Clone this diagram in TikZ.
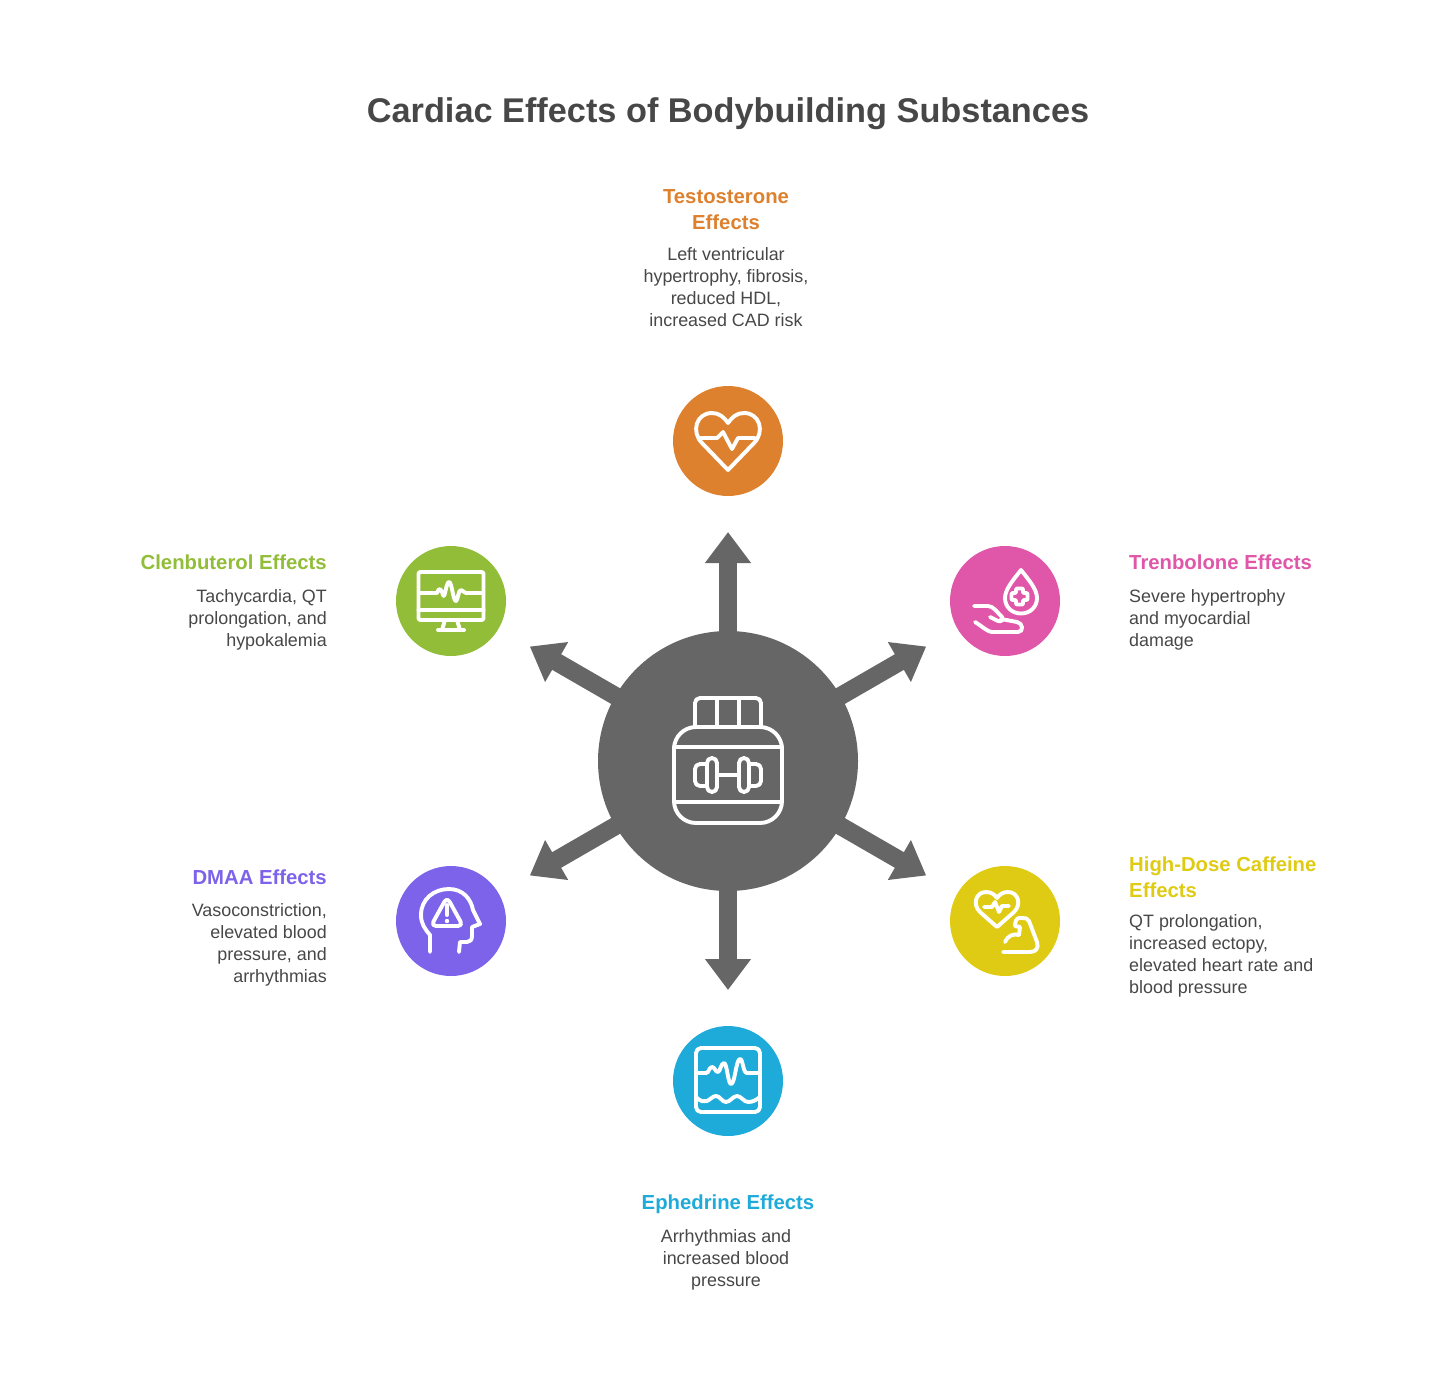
\documentclass[tikz,border=0pt]{standalone}
\usepackage{fontspec}
\setmainfont{Liberation Sans}
\usetikzlibrary{arrows.meta}
\definecolor{inkgray}{HTML}{474747}
\definecolor{hubgray}{HTML}{666666}
\definecolor{testoorange}{HTML}{DD812E}
\definecolor{clengreen}{HTML}{92BD39}
\definecolor{trenpink}{HTML}{E056A9}
\definecolor{dmaapurple}{HTML}{7D63EA}
\definecolor{caffyellow}{HTML}{DFCB13}
\definecolor{ephedblue}{HTML}{1EABDA}
\begin{document}
\begin{tikzpicture}[
  x=1pt, y=-1pt,
  hub/.style={circle, fill=hubgray, minimum size=260pt, inner sep=0pt, outer sep=0pt},
  badge/.style={circle, minimum size=110pt, inner sep=0pt, outer sep=0pt},
  spoke/.style={-{Triangle[length=31pt, width=44pt]}, line width=18pt, draw=hubgray, shorten >=36pt, shorten <=-2pt},
  glyph/.style={draw=white, line width=3.9pt, line cap=round, line join=round},
  titletext/.style={font=\fontsize{34.3}{40}\selectfont\bfseries, text=inkgray, inner sep=0pt},
  heading/.style={font=\fontsize{20.3}{26}\selectfont\bfseries, inner sep=0pt},
  blurb/.style={font=\fontsize{17.9}{22}\selectfont, text=inkgray, inner sep=0pt}
]
  \useasboundingbox (0,0) rectangle (1456,1379);

  % Title
  \node[titletext] (title) at (728,114) {Cardiac Effects of Bodybuilding Substances};

  % Hub and badges
  \node[hub] (hub) at (728,761) {};
  \node[badge, fill=testoorange] (testo) at (728,441) {};
  \node[badge, fill=clengreen] (clen) at (451,601) {};
  \node[badge, fill=trenpink] (tren) at (1005,601) {};
  \node[badge, fill=dmaapurple] (dmaa) at (451,921) {};
  \node[badge, fill=caffyellow] (caff) at (1005,921) {};
  \node[badge, fill=ephedblue] (ephed) at (728,1081) {};

  % Arrows
  \draw[spoke] (hub) -- (testo);
  \draw[spoke] (hub) -- (clen);
  \draw[spoke] (hub) -- (tren);
  \draw[spoke] (hub) -- (dmaa);
  \draw[spoke] (hub) -- (caff);
  \draw[spoke] (hub) -- (ephed);

  % Jar icon
  \begin{scope}[shift={(hub)}]
    \draw[glyph, rounded corners=22pt] (-54,-34) rectangle (54,62);
    \draw[glyph, rounded corners=5pt] (-33,-34) -- (-33,-63) -- (33,-63) -- (33,-34);
    \draw[glyph] (-11,-63) -- (-11,-34);
    \draw[glyph] (11,-63) -- (11,-34);
    \draw[glyph] (-54,-14) -- (54,-14);
    \draw[glyph] (-54,41) -- (54,41);
    \draw[glyph] (-11,14) -- (11,14);
    \draw[glyph, rounded corners=5pt] (-21,-3) rectangle (-11,31);
    \draw[glyph, rounded corners=5pt] (11,-3) rectangle (21,31);
    \draw[glyph, rounded corners=5pt] (-21,3) -- (-33,3) -- (-33,25) -- (-21,25);
    \draw[glyph, rounded corners=5pt] (21,3) -- (33,3) -- (33,25) -- (21,25);
  \end{scope}

  % Heart icon
  \begin{scope}[shift={(testo)}]
    \draw[glyph] (0,29) -- (-26,2) .. controls (-37,-9) and (-32,-28) .. (-16,-28)
      .. controls (-9,-28) and (-4,-24) .. (0,-18)
      .. controls (4,-24) and (9,-28) .. (16,-28)
      .. controls (32,-28) and (37,-9) .. (26,2) -- cycle;
    \draw[glyph] (-29,-3) -- (-11,-3) -- (-5,-9) -- (4,8) -- (10,-3) -- (27,-3);
  \end{scope}

  % Monitor icon
  \begin{scope}[shift={(clen)}]
    \draw[glyph, rounded corners=2pt] (-32.5,-29) rectangle (32.5,19);
    \draw[glyph] (-32.5,9) -- (32.5,9);
    \draw[glyph] (-6,19) -- (-9,29);
    \draw[glyph] (6,19) -- (9,29);
    \draw[glyph] (-13,29) -- (13,29);
    \draw[glyph] (-32,-8) -- (-14,-8) .. controls (-12,-14) and (-10,-13) .. (-8,-6)
      .. controls (-6,-1) and (-5,-19) .. (-2,-19)
      .. controls (1,-19) and (2,0) .. (5,0)
      .. controls (7,0) and (7,-11) .. (10,-11)
      .. controls (12,-11) and (13,-8) .. (15,-8) -- (32,-8);
  \end{scope}

  % Drop in hand icon
  \begin{scope}[shift={(tren)}]
    \draw[glyph] (16,-31) .. controls (9,-22) and (0,-12) .. (0,-3)
      .. controls (0,6) and (7,12.5) .. (16,12.5)
      .. controls (25,12.5) and (32,6) .. (32,-3)
      .. controls (32,-12) and (23,-22) .. (16,-31) -- cycle;
    \draw[glyph, rounded corners=1pt] (11,-12.5) -- (18,-12.5) -- (18,-8) -- (22.5,-8) -- (22.5,-1) -- (18,-1) -- (18,3.5)
      -- (11,3.5) -- (11,-1) -- (6.5,-1) -- (6.5,-8) -- (11,-8) -- cycle;
    \draw[glyph] (-31,5) -- (-17,5) .. controls (-12,5) and (-8,11) .. (-3,16)
      .. controls (-1,19) and (-4,21) .. (-7,20) -- (-15,16);
    \draw[glyph] (-4,18) -- (12,21) .. controls (18,22) and (19,31) .. (13,31)
      -- (-13,31) .. controls (-17,31) and (-22,26) .. (-30,21);
  \end{scope}

  % Head icon
  \begin{scope}[shift={(dmaa)}]
    \draw[glyph] (-21,31) -- (-21,14) .. controls (-26,8) and (-30,3) .. (-30,-6)
      .. controls (-30,-22) and (-17,-32) .. (-2,-32)
      .. controls (12,-32) and (20,-22) .. (22,-11)
      -- (29,3) -- (21,6) -- (21,15) .. controls (21,19) and (19,21) .. (16,21)
      -- (9,21) -- (8,31);
    \draw[glyph, rounded corners=5pt] (-4,-24) -- (-20,5) -- (12,5) -- cycle;
    \draw[glyph] (-4,-16) -- (-4,-6);
    \fill[white] (-4,0) circle (2.2pt);
  \end{scope}

  % Heart and arm icon
  \begin{scope}[shift={(caff)}]
    \draw[glyph] (-8,6) -- (-25,-9) .. controls (-33,-17) and (-29,-29) .. (-19,-29)
      .. controls (-14,-29) and (-11,-27) .. (-8,-23)
      .. controls (-5,-27) and (-2,-29) .. (3,-29)
      .. controls (13,-29) and (17,-17) .. (9,-9) -- cycle;
    \draw[glyph] (-21,-14) -- (-13,-14) -- (-10,-19) -- (-6,-9) -- (-3,-15) -- (4,-15);
    \draw[glyph] (-2,31) -- (25,31) .. controls (31,31) and (34,27) .. (32,21)
      -- (24,0) .. controls (23,-3) and (20,-3) .. (17,-3) -- (14,-3)
      .. controls (11,-3) and (10,2) .. (10,5) -- (15,6) -- (14,14);
    \draw[glyph] (0,21) .. controls (2,15) and (9,12) .. (14,14);
  \end{scope}

  % Waveform icon
  \begin{scope}[shift={(ephed)}]
    \draw[glyph, rounded corners=5pt] (-32,-33) rectangle (32,31);
    \draw[glyph] (-32,-8) -- (-22,-8) .. controls (-19,-8) and (-19,-14) .. (-16,-14)
      .. controls (-13,-14) and (-13,-9) .. (-10,-9)
      .. controls (-8,-9) and (-7,-18) .. (-4,-18)
      .. controls (-1,-18) and (0,3) .. (3,3)
      .. controls (7,3) and (8,-22) .. (12,-22)
      .. controls (15,-22) and (15,-8) .. (19,-8) -- (32,-8);
    \draw[glyph] (-32,16) .. controls (-27,21) and (-24,21) .. (-21,20)
      .. controls (-17,18) and (-15,15) .. (-12,15)
      .. controls (-8,15) and (-6,21) .. (-2,21)
      .. controls (2,21) and (5,15) .. (9,15)
      .. controls (13,15) and (16,21) .. (20,21)
      .. controls (25,21) and (28,19) .. (32,16);
  \end{scope}

  % Labels
  \node[heading, text=testoorange, align=center] (testohead) at (726,210) {Testosterone\\Effects};
  \node[blurb, align=center] (testotext) at (726,287) {Left ventricular\\hypertrophy, fibrosis,\\reduced HDL,\\increased CAD risk};

  \node[heading, text=clengreen, anchor=east] (clenhead) at (327,562.5) {Clenbuterol Effects};
  \node[blurb, align=right, anchor=east] (clentext) at (327,620) {Tachycardia, QT\\prolongation, and\\hypokalemia};

  \node[heading, text=trenpink, anchor=west] (trenhead) at (1129,562.5) {Trenbolone Effects};
  \node[blurb, align=left, anchor=west] (trentext) at (1129,620) {Severe hypertrophy\\and myocardial\\damage};

  \node[heading, text=dmaapurple, anchor=east] (dmaahead) at (327,877) {DMAA Effects};
  \node[blurb, align=right, anchor=east] (dmaatext) at (327,945) {Vasoconstriction,\\elevated blood\\pressure, and\\arrhythmias};

  \node[heading, text=caffyellow, align=left, anchor=west] (caffhead) at (1129,877) {High-Dose Caffeine\\Effects};
  \node[blurb, align=left, anchor=west] (cafftext) at (1129,956) {QT prolongation,\\increased ectopy,\\elevated heart rate and\\blood pressure};

  \node[heading, text=ephedblue] (ephedhead) at (728,1204) {Ephedrine Effects};
  \node[blurb, align=center] (ephedtext) at (726,1260) {Arrhythmias and\\increased blood\\pressure};
\end{tikzpicture}
\end{document}
